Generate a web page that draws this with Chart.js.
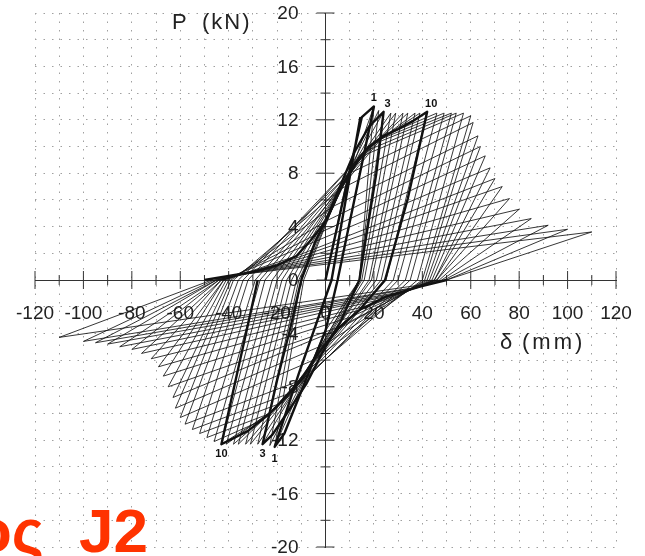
<!DOCTYPE html>
<html>
<head>
<meta charset="utf-8">
<script src="https://cdn.jsdelivr.net/npm/chart.js@4.4.0/dist/chart.umd.min.js"></script>
<style>
html, body { margin: 0; padding: 0; background: #fff; }
#wrap { width: 645px; height: 556px; }
</style>
</head>
<body>
<div id="wrap"><canvas id="chart" width="645" height="556"></canvas></div>
<script>
// 各循環的正向峰值 (δ mm, P kN)
const posPeakD = [20, 22, 24, 27, 29, 32, 34, 37, 39, 42, 46, 49, 52, 54, 57, 60, 61, 63, 64, 66, 68, 70, 73, 76, 80, 85, 92, 100, 110];
const posPeakP = [13.0, 12.7, 12.6, 12.5, 12.5, 12.5, 12.5, 12.5, 12.5, 12.6, 12.5, 12.5, 12.5, 12.5, 12.5, 12.3, 11.8, 10.8, 10.0, 9.3, 8.4, 7.6, 7.0, 6.1, 5.3, 4.6, 4.1, 3.8, 3.6];
// 各循環的負向峰值
const negPeakD = [-21, -23, -26, -28, -31, -33, -36, -38, -41, -43, -46, -49, -52, -55, -58, -60, -62, -63, -65, -67, -69, -72, -76, -80, -85, -90, -95, -100, -110];
const negPeakP = [-12.5, -12.4, -12.3, -12.3, -12.3, -12.3, -12.3, -12.3, -12.3, -12.3, -12.1, -11.8, -11.5, -11.2, -10.8, -10.3, -9.6, -8.8, -8.0, -7.2, -6.5, -5.9, -5.5, -5.2, -5.0, -4.8, -4.7, -4.6, -4.3];
// 卸載後 P≈0 的位移
const posUnloadD = [14, 14, 14, 15, 16, 18, 19, 21, 23, 25, 28, 30, 33, 35, 38, 40, 41, 42, 43, 44, 45, 45, 46, 46, 47, 48, 49, 50, 50];
const negUnloadD = [-9, -10, -11, -12, -14, -16, -18, -20, -22, -25, -27, -29, -32, -34, -36, -38, -39, -40, -41, -42, -42, -43, -43, -44, -44, -45, -45, -46, -47];
// 再加載起點 (捏縮段結束處)
const posDepartD = [8, 6, 8, 9, 10, 12, 14, 16, 18, 18, 24, 22, 20, 16, 14, 10, 6, 3, 0, -4, -8, -12, -16, -20, -25, -30, -33, -36, -40];
const posDepartP = [6.8, 6.8, 7.5, 7.8, 8.0, 8.6, 9.2, 9.6, 10.0, 10.0, 10.8, 10.5, 10.2, 9.6, 9.2, 8.0, 6.8, 5.5, 4.4, 3.4, 2.6, 1.8, 1.4, 1.1, 0.8, 0.6, 0.5, 0.4, 0.3];
const negDepartD = [0, -4, -6, -8, -10, -12, -15, -17, -20, -23, -26, -23, -18, -15, -10, -5, 0, 4, 6, 10, 14, 18, 22, 25, 30, 34, 37, 39, 42];
const negDepartP = [-3.8, -5.6, -6.2, -6.9, -7.5, -7.9, -8.5, -9.0, -9.5, -10.0, -10.5, -10.0, -9.2, -8.5, -7.5, -6.0, -4.8, -3.8, -3.5, -2.8, -2.25, -1.9, -1.5, -1.25, -1.0, -0.8, -0.6, -0.5, -0.3];

// 粗線標示的循環 1, 3, 10
const bold1 = [[0, 0], [8, 6.6], [15, 12.2], [20, 13], [5, 0], [0, -3.8], [-17, -11.5], [-21, -12.5], [-11, -7], [2.5, 0], [14.4, 12.2]];
const bold3 = [[-10, 0], [-4, 3], [0, 4.4], [6, 7], [12, 9.6], [18, 11.5], [24, 12.6], [21, 8], [17, 3.5], [14, 0], [6, -3.2], [0, -5], [-8, -7.8], [-16, -10], [-22, -11.6], [-26, -12.3], [-20, -7.5], [-14.8, -3.8], [-10, 0]];
const bold10 = [[-50, 0], [-40, 0.3], [-30, 0.6], [-20, 1.1], [-12, 1.8], [-6, 3], [0, 4.4], [3, 5.5], [6, 6.8], [10, 8], [14, 9.2], [18, 10], [24, 10.8], [30, 11.3], [36, 11.9], [42, 12.6], [34, 6.1], [24.6, 0], [14, -2.25], [6, -3.5], [0, -4.8], [-5, -6], [-10, -7.5], [-15, -8.5], [-23, -10], [-32, -11.3], [-43, -12.3], [-32.6, -3.8], [-28, 0]];
const bold10Tail = [[50, 0], [39, -0.5], [25, -1.25], [14, -2.25]];

// 峰值旁的循環編號
const peakLabels = [
    { text: '1', d: 20, p: 13.0, dx: 0, dy: -8 },
    { text: '3', d: 24, p: 12.6, dx: 4, dy: -8 },
    { text: '10', d: 42, p: 12.6, dx: 4, dy: -8 },
    { text: '10', d: -43, p: -12.3, dx: 0, dy: 10 },
    { text: '3', d: -26, p: -12.3, dx: 0, dy: 10 },
    { text: '1', d: -21, p: -12.5, dx: 0, dy: 12 }
];

const xTicksMin = -120, xTicksMax = 120;
const yTicksMin = -20, yTicksMax = 20;

const toPts = arr => arr.map(([x, y]) => ({ x, y }));

// 依序組出每個循環的路徑
const datasets = [];
for (let i = 0; i < posPeakD.length; i++) {
    const start = i === 0 ? [0, 0] : [negUnloadD[i - 1], 0];
    const path = [
        start,
        [posDepartD[i], posDepartP[i]],
        [posPeakD[i], posPeakP[i]],
        [posUnloadD[i], 0],
        [negDepartD[i], negDepartP[i]],
        [negPeakD[i], negPeakP[i]],
        [negUnloadD[i], 0]
    ];
    datasets.push({
        data: toPts(path),
        showLine: true,
        borderColor: 'rgba(20,20,20,0.85)',
        borderWidth: 1,
        pointRadius: 0,
        tension: 0
    });
}
[bold1, bold3, bold10, bold10Tail].forEach(loop => {
    datasets.push({
        data: toPts(loop),
        showLine: true,
        borderColor: '#111',
        borderWidth: 2.4,
        pointRadius: 0,
        tension: 0,
        borderJoinStyle: 'round'
    });
});

const fontFamily = '"Liberation Sans", Arial, sans-serif';

// 穿過軸線的刻度、軸數字、軸標題、循環編號與紅字
const decorations = {
    id: 'decorations',
    beforeDatasetsDraw(chart) {
        const { ctx, scales: { x, y } } = chart;
        const x0 = x.getPixelForValue(0);
        const y0 = y.getPixelForValue(0);
        ctx.save();
        ctx.strokeStyle = '#333';
        ctx.lineWidth = 1;
        ctx.beginPath();
        x.ticks.forEach(t => {
            const px = x.getPixelForValue(t.value);
            const h = t.value % 20 === 0 ? 9 : 5;
            ctx.moveTo(px, y0 - h);
            ctx.lineTo(px, y0 + h);
        });
        y.ticks.forEach(t => {
            const py = y.getPixelForValue(t.value);
            const w = t.value % 4 === 0 ? 9 : 5;
            ctx.moveTo(x0 - w, py);
            ctx.lineTo(x0 + w, py);
        });
        ctx.stroke();

        ctx.fillStyle = '#222';
        ctx.font = '19px ' + fontFamily;
        ctx.textBaseline = 'middle';
        ctx.textAlign = 'right';
        y.ticks.forEach(t => {
            if (t.value % 4 !== 0) return;
            ctx.fillText(String(t.value), x0 - 27, y.getPixelForValue(t.value) + 1);
        });
        ctx.textAlign = 'center';
        x.ticks.forEach(t => {
            if (t.value % 20 !== 0) return;
            ctx.fillText(String(t.value), x.getPixelForValue(t.value), y0 + 34);
        });

        ctx.font = '22px ' + fontFamily;
        ctx.textAlign = 'left';
        ctx.fillText('P', 172, 23);
        ctx.fillText('δ', 500, 343);
        ctx.letterSpacing = '2px';
        ctx.fillText('(kN)', 202, 23);
        ctx.letterSpacing = '3px';
        ctx.fillText('(mm)', 522, 343);
        ctx.restore();
    },
    afterDraw(chart) {
        const { ctx, scales: { x, y } } = chart;
        ctx.save();
        ctx.fillStyle = '#111';
        ctx.font = 'bold 11px ' + fontFamily;
        ctx.textAlign = 'center';
        ctx.textBaseline = 'middle';
        peakLabels.forEach(l => {
            ctx.fillText(l.text, x.getPixelForValue(l.d) + l.dx, y.getPixelForValue(l.p) + l.dy);
        });

        ctx.fillStyle = '#ff3300';
        ctx.font = 'bold 62px ' + fontFamily;
        ctx.textBaseline = 'alphabetic';
        ctx.textAlign = 'right';
        ctx.fillText('ος', 44, 552);
        ctx.textAlign = 'left';
        ctx.fillText('J2', 79, 552);
        ctx.restore();
    }
};

new Chart(document.getElementById('chart'), {
    type: 'scatter',
    data: { datasets },
    options: {
        responsive: false,
        animation: false,
        layout: { padding: { left: 35, right: 29, top: 13, bottom: 9 } },
        plugins: {
            legend: { display: false },
            tooltip: { enabled: false }
        },
        scales: {
            x: {
                type: 'linear',
                position: { y: 0 },
                min: xTicksMin,
                max: xTicksMax,
                afterFit: s => { s.height = 0; },
                grid: { color: '#a0a0a0', lineWidth: 1, drawTicks: false },
                border: { display: true, color: '#333', width: 1, dash: [1.5, 7] },
                ticks: { stepSize: 10, autoSkip: false, display: false }
            },
            y: {
                type: 'linear',
                position: { x: 0 },
                min: yTicksMin,
                max: yTicksMax,
                afterFit: s => { s.width = 0; },
                grid: { color: '#a0a0a0', lineWidth: 1, drawTicks: false },
                border: { display: true, color: '#333', width: 1, dash: [1.5, 7] },
                ticks: { stepSize: 2, autoSkip: false, display: false }
            }
        }
    },
    plugins: [decorations]
});
</script>
</body>
</html>
